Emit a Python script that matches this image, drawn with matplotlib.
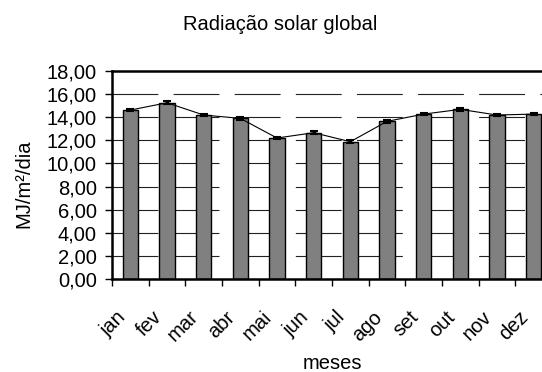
import numpy as np
import matplotlib
matplotlib.use("Agg")
import matplotlib.pyplot as plt
import matplotlib.transforms as mtrans

plt.rcParams['font.family'] = ['Liberation Sans', 'DejaVu Sans']
plt.rcParams['lines.scale_dashes'] = False

# dados
meses = ['jan', 'fev', 'mar', 'abr', 'mai', 'jun', 'jul', 'ago', 'set', 'out', 'nov', 'dez']
radiacao = [14.62, 15.25, 14.19, 13.90, 12.20, 12.66, 11.88, 13.64, 14.27, 14.68, 14.19, 14.27]
erro = [0.12, 0.12, 0.12, 0.12, 0.12, 0.12, 0.12, 0.12, 0.12, 0.12, 0.12, 0.12]
yticks = [0, 2, 4, 6, 8, 10, 12, 14, 16, 18]
ytick_labels = ['0,00', '2,00', '4,00', '6,00', '8,00', '10,00', '12,00', '14,00', '16,00', '18,00']

fs = 14.5
fig = plt.figure(figsize=(5.42, 3.72), dpi=100)
# eixo passa da borda direita da figura (como no original)
ax = fig.add_axes([112/542, 93/372, 440/542, 208/372])

x = np.arange(len(meses)) + 0.5

# linhas de grade tracejadas
for y in yticks[1:-1]:
    ax.plot([0, 12], [y, y], color='#222222', lw=0.8,
            linestyle=(0, (33.0, 11.0)), zorder=1)

ax.bar(x, radiacao, width=0.41, color='#808080', edgecolor='black', lw=1.0, zorder=2)
ax.plot(x, radiacao, color='black', lw=0.8, zorder=3)
ax.errorbar(x, radiacao, yerr=erro, fmt='none', ecolor='black', elinewidth=2.5,
            capsize=3, capthick=1.5, zorder=4)

ax.set_xlim(0, 12)
ax.set_ylim(0, 18)
ax.set_yticks(yticks)
ax.set_yticklabels(ytick_labels, fontsize=fs)
ax.set_xticks(np.arange(12))
ax.set_xticklabels([])
ax.tick_params(axis='both', direction='out', length=5, width=1.0)
ax.tick_params(axis='y', pad=6)

for s in ['left', 'bottom', 'top']:
    ax.spines[s].set_linewidth(1.8)
ax.spines['right'].set_visible(False)

off = mtrans.ScaledTranslation(-8/100, -35/100, fig.dpi_scale_trans)
for xi, m in zip(x, meses):
    ax.text(xi, 0, m, transform=ax.get_xaxis_transform() + off, fontsize=fs,
            rotation=45, ha='right', va='center', rotation_mode='anchor')

fig.text(280/542, 1 - 30/372, 'Radiação solar global', fontsize=fs, ha='center', va='baseline')
fig.text(332/542, 1 - 369/372, 'meses', fontsize=fs, ha='center', va='baseline')
fig.text(23.5/542, 1 - 184/372, 'MJ/m²/dia', fontsize=fs, ha='center', va='center', rotation=90)

fig.savefig('out.png', dpi=100)
